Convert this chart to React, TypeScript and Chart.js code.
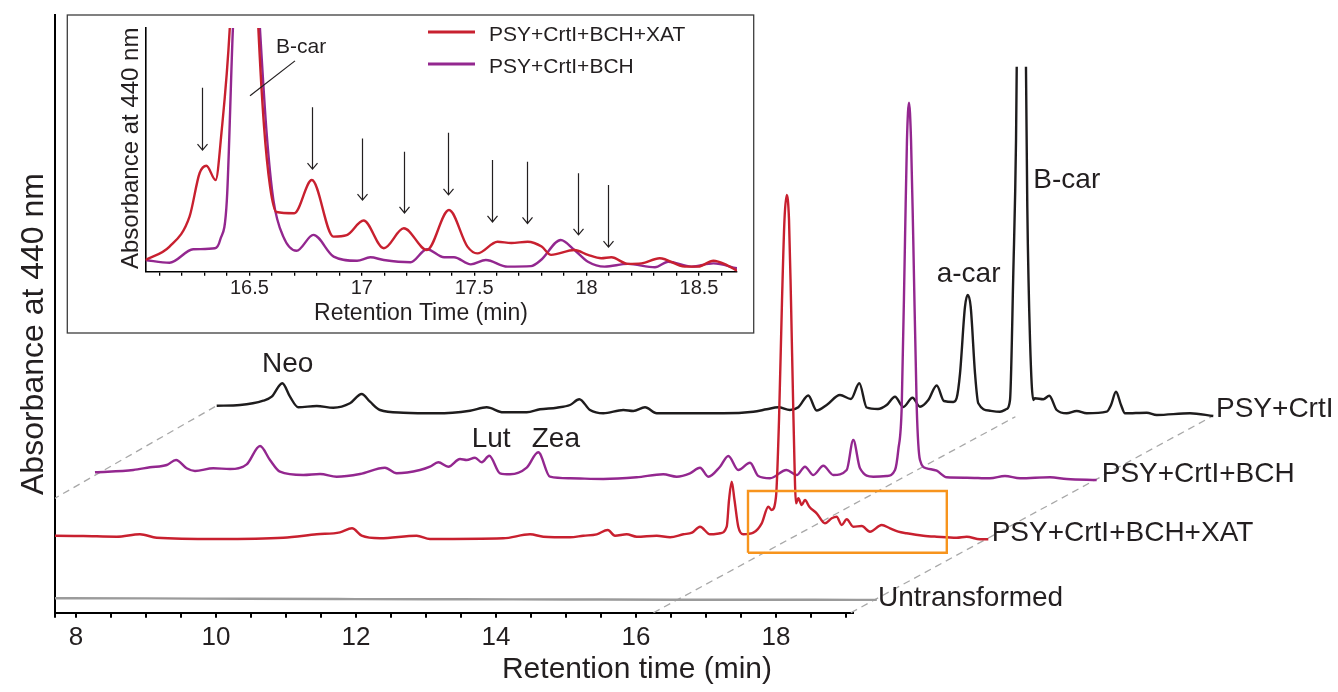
import React, { useEffect, useRef } from 'react';
import { Chart, registerables } from 'chart.js';

Chart.register(...registerables);

const FONT = "'Liberation Sans', Arial, Helvetica, sans-serif";
const INK = '#231f20';

// ---------- main chromatograms: [retention time (min), absorbance at 440 nm (a.u.)]
const UNTRANSFORMED: number[][] = [
  [5.2, 0.5], [6.5, 0.4], [7.7, 0.4], [9.0, 0.3], [10.4, -0.1], [12.0, -0.4], [13.5, -0.6],
  [15.0, -0.8], [16.5, -1.0], [17.5, -1.1], [18.5, -1.0], [19.44, -1.2],
];

const PSY_CRTI_BCH_XAT: number[][] = [
  [5.5, 3], [6.1, 3], [6.504, 2.7], [6.981, 2], [7.314, 4.4], [7.553, 1], [8.41, -0.3], [9.361, 1],
  [9.839, 4.4], [10.171, 6.4], [10.343, 10.4], [10.481, 3], [10.743, 0.4], [11.267, 3], [11.457, -0.3],
  [12.504, 0.4], [12.886, 4.4], [13.076, 2], [13.457, 1.4], [13.647, 3], [13.839, 4.4], [13.996, 8.7],
  [14.1, 3], [14.267, 4.4], [14.41, 2], [14.696, 3], [14.886, 1.4], [15.076, 4.4], [15.2, 6], [15.314, 12],
  [15.457, 4.4], [15.6, 5.4], [15.696, 12], [15.729, 38.7], [15.767, 57], [15.807, 38.7], [15.861, 12],
  [15.933, 4.4], [16.076, 6], [16.196, 15.4], [16.29, 32], [16.339, 28.7], [16.4, 42], [16.443, 118.7],
  [16.486, 238.7], [16.521, 318.7], [16.553, 343.7], [16.586, 318.7], [16.614, 238.7], [16.65, 118.7],
  [16.686, 35.4], [16.719, 40.4], [16.767, 33.7], [16.814, 38.7], [16.876, 32], [16.981, 25.4], [17.1, 15.4],
  [17.196, 20.4], [17.266, 22], [17.339, 13.7], [17.41, 19.4], [17.504, 12], [17.624, 12.7], [17.743, 7],
  [17.91, 13.7], [18.029, 10.4], [18.147, 7], [18.267, 5.4], [18.504, 3], [18.696, 2], [18.981, 1],
  [19.124, 2], [19.314, -0.6], [19.433, -0.6],
];

const PSY_CRTI_BCH: number[][] = [
  [5.121, 9.4], [5.669, 11.7], [5.907, 14.4], [6.146, 16.7], [6.279, 21.7], [6.431, 13.4], [6.55, 10.7],
  [6.811, 13.4], [7.05, 12.7], [7.289, 17.4], [7.479, 35.7], [7.621, 21.7], [7.764, 10], [8.097, 6.7],
  [8.336, 7.7], [8.574, 5], [8.907, 7.7], [9.264, 14], [9.431, 8.4], [9.764, 11.7], [9.907, 15],
  [10.026, 19.4], [10.169, 15], [10.336, 22.7], [10.431, 21.7], [10.55, 24], [10.646, 19.4], [10.754, 26],
  [10.907, 8.4], [11.05, 7.4], [11.289, 14], [11.454, 29.4], [11.621, 5], [11.907, 3.4], [12.383, 2.7],
  [12.86, 4.4], [13.239, 7.4], [13.431, 5], [13.621, 8.4], [13.764, 14], [13.883, 5], [14.05, 15],
  [14.169, 25.7], [14.311, 11.7], [14.479, 19], [14.597, 5.7], [14.764, 3.4], [14.999, 11.7], [15.146, 6.7],
  [15.264, 15], [15.383, 6.7], [15.526, 16], [15.669, 6.7], [15.86, 11.7], [15.954, 41.7], [16.05, 13.4],
  [16.24, 5], [16.431, 5.7], [16.55, 11.7], [16.597, 31.7], [16.646, 75], [16.693, 241.7], [16.721, 341.7],
  [16.75, 379], [16.779, 341.7], [16.811, 241.7], [16.86, 75], [16.907, 21.7], [17.003, 13.4], [17.146, 11],
  [17.289, 4.4], [17.574, 4], [17.907, 3.4], [18.121, 5.7], [18.336, 3.4], [18.764, 4.4], [19.003, 2.7],
  [19.431, 1.7],
];

const PSY_CRTI: number[][] = [
  [5.21, 11], [5.543, 11.7], [5.876, 16], [5.996, 20], [6.147, 33.4], [6.257, 20], [6.376, 9.4], [6.639, 10.7],
  [6.876, 9], [7.114, 13.4], [7.281, 22.7], [7.4, 15], [7.543, 6.7], [7.876, 4], [8.353, 3.4], [8.829, 6],
  [9.067, 9.4], [9.304, 4.4], [9.639, 4.4], [9.829, 7.4], [10.067, 9], [10.257, 11.7], [10.39, 17.4],
  [10.543, 6.7], [10.733, 3.4], [11.019, 6.7], [11.161, 5.7], [11.329, 9.4], [11.496, 3.4], [12.114, 3.4],
  [12.447, 3.4], [12.876, 5], [13.067, 7.4], [13.233, 9.4], [13.4, 6.7], [13.519, 9.4], [13.661, 21.2],
  [13.781, 6.2], [13.924, 11.7], [14.114, 21.7], [14.271, 17.7], [14.39, 33.4], [14.496, 9.2], [14.657, 7.7],
  [14.781, 11.7], [14.9, 20], [15.019, 9.7], [15.15, 18.9], [15.257, 10], [15.376, 16.7], [15.496, 31.2],
  [15.6, 15.7], [15.733, 14.7], [15.781, 18.7], [15.829, 43.4], [15.9, 110], [15.939, 121.7], [15.981, 110],
  [16.043, 43.4], [16.09, 13.4], [16.257, 6], [16.4, 5], [16.496, 7.7], [16.543, 16.7], [16.59, 143.4],
  [16.629, 276.7], [16.639, 350], [16.704, 700], [16.771, 350], [16.79, 210], [16.829, 76.7], [16.876, 16.7],
  [16.9, 18.4], [17.019, 17.4], [17.104, 21], [17.21, 6.7], [17.353, 3.4], [17.496, 5.7], [17.639, 3.4],
  [17.924, 5], [17.986, 11.7], [18.057, 25], [18.129, 11.7], [18.186, 3.4], [18.496, 4], [18.639, 1.7],
  [19.114, 3.4], [19.447, 0.7],
];

const TRACE_NAMES = ['Untransformed', 'PSY+CrtI+BCH+XAT', 'PSY+CrtI+BCH', 'PSY+CrtI'];
const TRACE_COLORS = ['#9b9b9b', '#c8202f', '#93278f', '#1e1c1d'];
// perspective (3-D stack) offsets: time shift (min) and absorbance lift
const TRACE_SHIFT_T = [0, 1.6, 3.15, 4.8];
const TRACE_SHIFT_A = [14, 74, 131, 196];
const AXIS_SHIFT_T = -0.37;
// perspective guide lines (time in trace frame, lift at back trace)
const GUIDE_T = [5.21, 16.62, 19.44];
const GUIDE_TOP = [11, 0, 0.7];
// highlighted region of the XAT trace (shown enlarged in the inset)
const ZOOM_T = [16.0, 18.84];
const ZOOM_A = [-14, 47.7];

const AXIS_MIN = 7.7;
const AXIS_MAX = 19.1;
const MAIN_TICKS: number[] = [7.7];
for (let i = 0; i <= 22; i++) MAIN_TICKS.push(8 + i * 0.5);
const MAIN_TICK_LABELS = [8, 10, 12, 14, 16, 18];

// text placed on the main plot [text, x (axis min), y (axis units)]
const MAIN_LABELS: [string, number, number][] = [
  ['Neo', 10.657, 240.7],
  ['Lut', 13.653, 166],
  ['Zea', 14.51, 166],
  ['a-car', 20.296, 330.7],
  ['B-car', 21.676, 424.4],
  ['PSY+CrtI', 24.286, 196],
  ['PSY+CrtI+BCH', 22.653, 131],
  ['PSY+CrtI+BCH+XAT', 21.081, 72],
  ['Untransformed', 19.457, 6.7],
];

// ---------- inset: [retention time (min), absorbance (a.u.)]
const INSET_XAT: number[][] = [
  [16.037, 4.8], [16.145, 10.3], [16.234, 22.6], [16.279, 40.5], [16.309, 43.5], [16.35, 37.6], [16.376, 57],
  [16.413, 100], [16.445, 170], [16.475, 200], [16.51, 170], [16.54, 100], [16.565, 60], [16.592, 35],
  [16.62, 24.5], [16.7, 24], [16.778, 37.6], [16.874, 14.4], [16.933, 15], [17.008, 21], [17.098, 9.6],
  [17.187, 17.8], [17.29, 8.9], [17.388, 25.3], [17.47, 10.3], [17.514, 7.5], [17.604, 12.3], [17.665, 11.8],
  [17.738, 12.3], [17.8, 10.3], [17.842, 6.9], [17.946, 8.9], [18.006, 6.9], [18.065, 5.5], [18.11, 5.9],
  [18.184, 3.2], [18.244, 3.4], [18.325, 5.5], [18.437, 2.1], [18.497, 2.1], [18.564, 4.5], [18.624, 2.7],
  [18.669, 0.4],
];
const INSET_BCH: number[][] = [
  [16.037, 4.8], [16.145, 3.7], [16.25, 9.2], [16.347, 9.6], [16.37, 13], [16.4, 29.4], [16.427, 100],
  [16.487, 200], [16.547, 100], [16.577, 56.8], [16.607, 29.4], [16.651, 14.4], [16.71, 8.6], [16.785, 15.1],
  [16.875, 6.2], [16.979, 4.5], [17.038, 5.9], [17.098, 4.8], [17.217, 3.9], [17.29, 9.2], [17.366, 5.9],
  [17.41, 5.9], [17.485, 3], [17.552, 4.8], [17.648, 2.1], [17.753, 2.3], [17.797, 4.8], [17.885, 13],
  [17.946, 8.9], [18.006, 4.1], [18.08, 2.1], [18.184, 3.2], [18.304, 1.8], [18.363, 4.1], [18.467, 2.1],
  [18.564, 3.4], [18.669, 1.4],
];
const INSET_TICKS: number[] = [];
for (let i = 1; i <= 26; i++) INSET_TICKS.push(Math.round((16 + i * 0.1) * 10) / 10);
const INSET_TICK_LABELS = [16.5, 17, 17.5, 18, 18.5];
// arrows [time, top, tip] in inset units
const INSET_ARROWS: number[][] = [
  [16.291, 75.5, 49.9], [16.777, 67.5, 42.1], [17.0, 54.7, 29.4], [17.189, 49.2, 24.1], [17.384, 57, 31.5],
  [17.581, 45.8, 20.4], [17.734, 45.1, 19.8], [17.963, 40.4, 15.1], [18.097, 35.6, 10.1],
];
const INSET_NOTE: [string, number, number] = ['B-car', 16.619, 89.6];
const INSET_LEADER: number[][] = [[16.503, 72.2], [16.703, 86.5]];

const mainTextPlugin = {
  id: 'mainText',
  afterDraw(chart: any) {
    const { ctx, scales } = chart;
    const x = scales.x;
    const y = scales.y;
    ctx.save();
    ctx.fillStyle = INK;
    ctx.textAlign = 'left';
    ctx.textBaseline = 'alphabetic';
    ctx.font = `28px ${FONT}`;
    for (const [txt, t, a] of MAIN_LABELS) {
      ctx.fillText(txt, x.getPixelForValue(t), y.getPixelForValue(a));
    }
    ctx.textAlign = 'center';
    ctx.font = `30px ${FONT}`;
    ctx.fillText('Retention time (min)', 637, 678);
    ctx.translate(42.5, 334);
    ctx.rotate(-Math.PI / 2);
    ctx.font = `32px ${FONT}`;
    ctx.fillText('Absorbance at 440 nm', 0, 0);
    ctx.restore();
  },
};

const insetPlugin = {
  id: 'insetDecor',
  afterDraw(chart: any) {
    const { ctx, scales } = chart;
    const x = scales.x;
    const y = scales.y;
    ctx.save();
    // frame
    ctx.strokeStyle = '#3d3d3d';
    ctx.lineWidth = 1.3;
    ctx.strokeRect(1.3, 1, chart.width - 2.6, chart.height - 2);
    // arrows
    ctx.strokeStyle = INK;
    ctx.lineWidth = 1.2;
    for (const [t, top, tip] of INSET_ARROWS) {
      const px = Math.round(x.getPixelForValue(t)) + 0.5;
      const y0 = y.getPixelForValue(top);
      const y1 = y.getPixelForValue(tip);
      ctx.beginPath();
      ctx.moveTo(px, y0);
      ctx.lineTo(px, y1);
      ctx.moveTo(px - 5, y1 - 6);
      ctx.lineTo(px, y1);
      ctx.lineTo(px + 5, y1 - 6);
      ctx.stroke();
    }
    // B-car note
    ctx.beginPath();
    ctx.moveTo(x.getPixelForValue(INSET_LEADER[0][0]), y.getPixelForValue(INSET_LEADER[0][1]));
    ctx.lineTo(x.getPixelForValue(INSET_LEADER[1][0]), y.getPixelForValue(INSET_LEADER[1][1]));
    ctx.stroke();
    ctx.fillStyle = INK;
    ctx.font = `21px ${FONT}`;
    ctx.textAlign = 'left';
    ctx.textBaseline = 'alphabetic';
    ctx.fillText(INSET_NOTE[0], x.getPixelForValue(INSET_NOTE[1]), y.getPixelForValue(INSET_NOTE[2]));
    // legend
    const ds = chart.data.datasets;
    ds.forEach((d: any, i: number) => {
      const ly = 18 + i * 32;
      ctx.strokeStyle = d.borderColor;
      ctx.lineWidth = 3;
      ctx.beginPath();
      ctx.moveTo(362, ly);
      ctx.lineTo(409, ly);
      ctx.stroke();
      ctx.fillStyle = INK;
      ctx.font = `21px ${FONT}`;
      ctx.fillText(d.label, 423, ly + 8.7);
    });
    // titles
    ctx.fillStyle = INK;
    ctx.textAlign = 'center';
    ctx.font = `23px ${FONT}`;
    ctx.fillText('Retention Time (min)', 355, 306);
    ctx.translate(72.3, 134.3);
    ctx.rotate(-Math.PI / 2);
    ctx.font = `24px ${FONT}`;
    ctx.fillText('Absorbance at 440 nm', 0, 0);
    ctx.restore();
  },
};

function MainChart() {
  const ref = useRef<HTMLCanvasElement>(null);
  useEffect(() => {
    if (!ref.current) return;
    const traces = [UNTRANSFORMED, PSY_CRTI_BCH_XAT, PSY_CRTI_BCH, PSY_CRTI];
    const drawOrder = [4, 1, 2, 3];
    const datasets: any[] = traces.map((tr, k) => ({
      label: TRACE_NAMES[k],
      data: tr.map(([t, a]) => ({ x: t + TRACE_SHIFT_T[k], y: a + TRACE_SHIFT_A[k] })),
      borderColor: TRACE_COLORS[k],
      borderWidth: 2.4,
      pointRadius: 0,
      fill: false,
      cubicInterpolationMode: 'monotone',
      clip: { left: 0, top: -51.7, right: false, bottom: false },
      order: drawOrder[k],
    }));
    const back = TRACE_NAMES.length - 1;
    GUIDE_T.forEach((T, i) => {
      datasets.push({
        label: 'guide' + i,
        data: [
          { x: T + AXIS_SHIFT_T, y: 0 },
          { x: T + TRACE_SHIFT_T[back], y: TRACE_SHIFT_A[back] + GUIDE_TOP[i] },
        ],
        borderColor: '#a8a8a8',
        borderWidth: 1.3,
        borderDash: [7, 5],
        pointRadius: 0,
        tension: 0,
        clip: { left: 0, top: false, right: false, bottom: false },
        order: 6,
      });
    });
    const rx = TRACE_SHIFT_T[1];
    const ry = TRACE_SHIFT_A[1];
    datasets.push({
      label: 'zoom',
      data: [
        { x: ZOOM_T[0] + rx, y: ZOOM_A[0] + ry },
        { x: ZOOM_T[0] + rx, y: ZOOM_A[1] + ry },
        { x: ZOOM_T[1] + rx, y: ZOOM_A[1] + ry },
        { x: ZOOM_T[1] + rx, y: ZOOM_A[0] + ry },
        { x: ZOOM_T[0] + rx, y: ZOOM_A[0] + ry },
      ],
      borderColor: '#f7941d',
      borderWidth: 2.4,
      pointRadius: 0,
      tension: 0,
      clip: false,
      order: 0,
    });

    const chart = new Chart(ref.current, {
      type: 'line',
      data: { datasets },
      options: {
        responsive: false,
        animation: false,
        devicePixelRatio: 1,
        events: [],
        layout: { padding: { left: 0, right: 485, top: 15, bottom: 0 } },
        plugins: { legend: { display: false }, tooltip: { enabled: false } },
        scales: {
          x: {
            type: 'linear',
            bounds: 'data',
            // range fixed after data limits so that the stacked (shifted) traces are not cut at the axis end
            afterDataLimits: (s: any) => { s.min = AXIS_MIN; s.max = AXIS_MAX; },
            afterFit: (s: any) => { s.height = 79.3; },
            afterBuildTicks: (s: any) => { s.ticks = MAIN_TICKS.map((v) => ({ value: v })); },
            ticks: {
              autoSkip: false,
              maxRotation: 0,
              minRotation: 0,
              padding: 5,
              color: INK,
              font: { family: FONT, size: 26 },
              callback: (v: any) => (MAIN_TICK_LABELS.some((l) => Math.abs(l - v) < 1e-6) ? String(v) : ''),
            },
            grid: { display: true, drawOnChartArea: false, drawTicks: true, tickLength: 5, color: '#000', lineWidth: 2 },
            border: { display: true, color: '#000', width: 2 },
          },
          y: {
            type: 'linear',
            min: 0,
            max: 597.7,
            afterFit: (s: any) => { s.width = 55; },
            ticks: { display: false },
            grid: { display: false },
            border: { display: true, color: '#000', width: 2 },
          },
        },
      } as any,
      plugins: [mainTextPlugin],
    });
    return () => chart.destroy();
  }, []);
  return <canvas ref={ref} width={1338} height={692} style={{ position: 'absolute', left: 0, top: 0 }} />;
}

function InsetChart() {
  const ref = useRef<HTMLCanvasElement>(null);
  useEffect(() => {
    if (!ref.current) return;
    const mk = (arr: number[][]) => arr.map(([t, a]) => ({ x: t, y: a }));
    const chart = new Chart(ref.current, {
      type: 'line',
      data: {
        datasets: [
          {
            label: 'PSY+CrtI+BCH+XAT',
            data: mk(INSET_XAT),
            borderColor: TRACE_COLORS[1],
            borderWidth: 2.4,
            pointRadius: 0,
            cubicInterpolationMode: 'monotone',
            order: 0,
          },
          {
            label: 'PSY+CrtI+BCH',
            data: mk(INSET_BCH),
            borderColor: TRACE_COLORS[2],
            borderWidth: 2.4,
            pointRadius: 0,
            cubicInterpolationMode: 'monotone',
            order: 1,
          },
        ],
      },
      options: {
        responsive: false,
        animation: false,
        devicePixelRatio: 1,
        events: [],
        layout: { padding: { left: 0, right: 18, top: 14, bottom: 0 } },
        plugins: { legend: { display: false }, tooltip: { enabled: false } },
        scales: {
          x: {
            type: 'linear',
            min: 16.039,
            max: 18.669,
            afterFit: (s: any) => { s.height = 62.3; },
            afterBuildTicks: (s: any) => { s.ticks = INSET_TICKS.map((v) => ({ value: v })); },
            ticks: {
              autoSkip: false,
              maxRotation: 0,
              minRotation: 0,
              padding: 1,
              color: INK,
              font: { family: FONT, size: 20 },
              callback: (v: any) => (INSET_TICK_LABELS.some((l) => Math.abs(l - v) < 1e-6) ? String(v) : ''),
            },
            grid: { display: true, drawOnChartArea: false, drawTicks: true, tickLength: 4, color: '#000', lineWidth: 1.3 },
            border: { display: true, color: '#000', width: 1.6 },
          },
          y: {
            type: 'linear',
            min: 0,
            max: 100,
            afterFit: (s: any) => { s.width = 79.7; },
            ticks: { display: false },
            grid: { display: false },
            border: { display: true, color: '#000', width: 1.6 },
          },
        },
      } as any,
      plugins: [insetPlugin],
    });
    return () => chart.destroy();
  }, []);
  return <canvas ref={ref} width={689} height={320} style={{ display: 'block' }} />;
}

export default function App() {
  return (
    <div style={{ position: 'absolute', left: 0, top: 0, width: 1338, height: 692, background: '#fff', overflow: 'hidden' }}>
      <MainChart />
      <div style={{ position: 'absolute', left: 66, top: 14, width: 689, height: 320, background: '#fff' }}>
        <InsetChart />
      </div>
    </div>
  );
}
